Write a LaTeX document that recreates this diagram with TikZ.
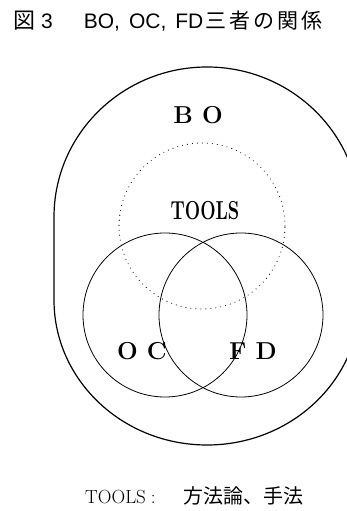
\documentclass[tikz,border=0pt]{standalone}
\usepackage{fontspec}
\newfontfamily\cjk{Noto Sans CJK JP}
\newfontfamily\titlesans{Liberation Sans}
\newcommand{\cjkgap}{\hspace{3pt}}
\tikzset{
  ring/.style={draw=black, line width=0.8pt},
  outer/.style={draw=black, line width=1.2pt},
  dotring/.style={draw=black, line width=1.1pt, line cap=round, dash pattern=on 0pt off 5pt},
  setlabel/.style={font=\fontsize{24.5}{24.5}\selectfont\bfseries, inner sep=0pt},
}
\begin{document}
\begin{tikzpicture}[x=1pt,y=1pt]
\useasboundingbox (0,0) rectangle (347,511);
\begin{scope}
\clip (0,0) rectangle (347,511);
\draw[outer] (54pt,211pt) -- (54pt,294pt)
  arc[start angle=180, end angle=0, x radius=153pt, y radius=150pt]
  -- (360pt,211pt)
  arc[start angle=0, end angle=-180, x radius=153pt, y radius=145pt] -- cycle;
\end{scope}
\node[dotring, circle, minimum size=166pt, inner sep=0pt] (tools) at (202,285) {};
\node[ring, circle, minimum size=164pt, inner sep=0pt] (oc) at (165,196) {};
\node[ring, circle, minimum size=164pt, inner sep=0pt] (fd) at (241,196) {};
\node[setlabel] (bo) at (198,396) {B O};
\node[setlabel, font=\fontsize{26}{26}\selectfont\bfseries, xscale=0.7] (toolslbl) at (205,300) {TOOLS};
\node[setlabel] (oclbl) at (142,160) {O C};
\node[setlabel] (fdlbl) at (253,160) {F D};
\node[anchor=base west, inner sep=0pt] (title) at (13,482)
  {{\cjk\fontsize{22}{22}\selectfont 図}\hspace{6pt}{\titlesans\fontsize{21}{21}\selectfont 3\hspace{31pt}BO,\hspace{9pt}OC,\hspace{9pt}FD}\hspace{2pt}{\cjk\fontsize{21}{21}\selectfont 三\cjkgap 者\cjkgap の\cjkgap 関\cjkgap 係}};
\node[anchor=base west, inner sep=0pt] (cap) at (85,8)
  {\fontsize{19}{19}\selectfont TOOLS\hspace{5pt}:\hspace{28pt}{\cjk\fontsize{20}{20}\selectfont 方法論、手法}};
\end{tikzpicture}
\end{document}
